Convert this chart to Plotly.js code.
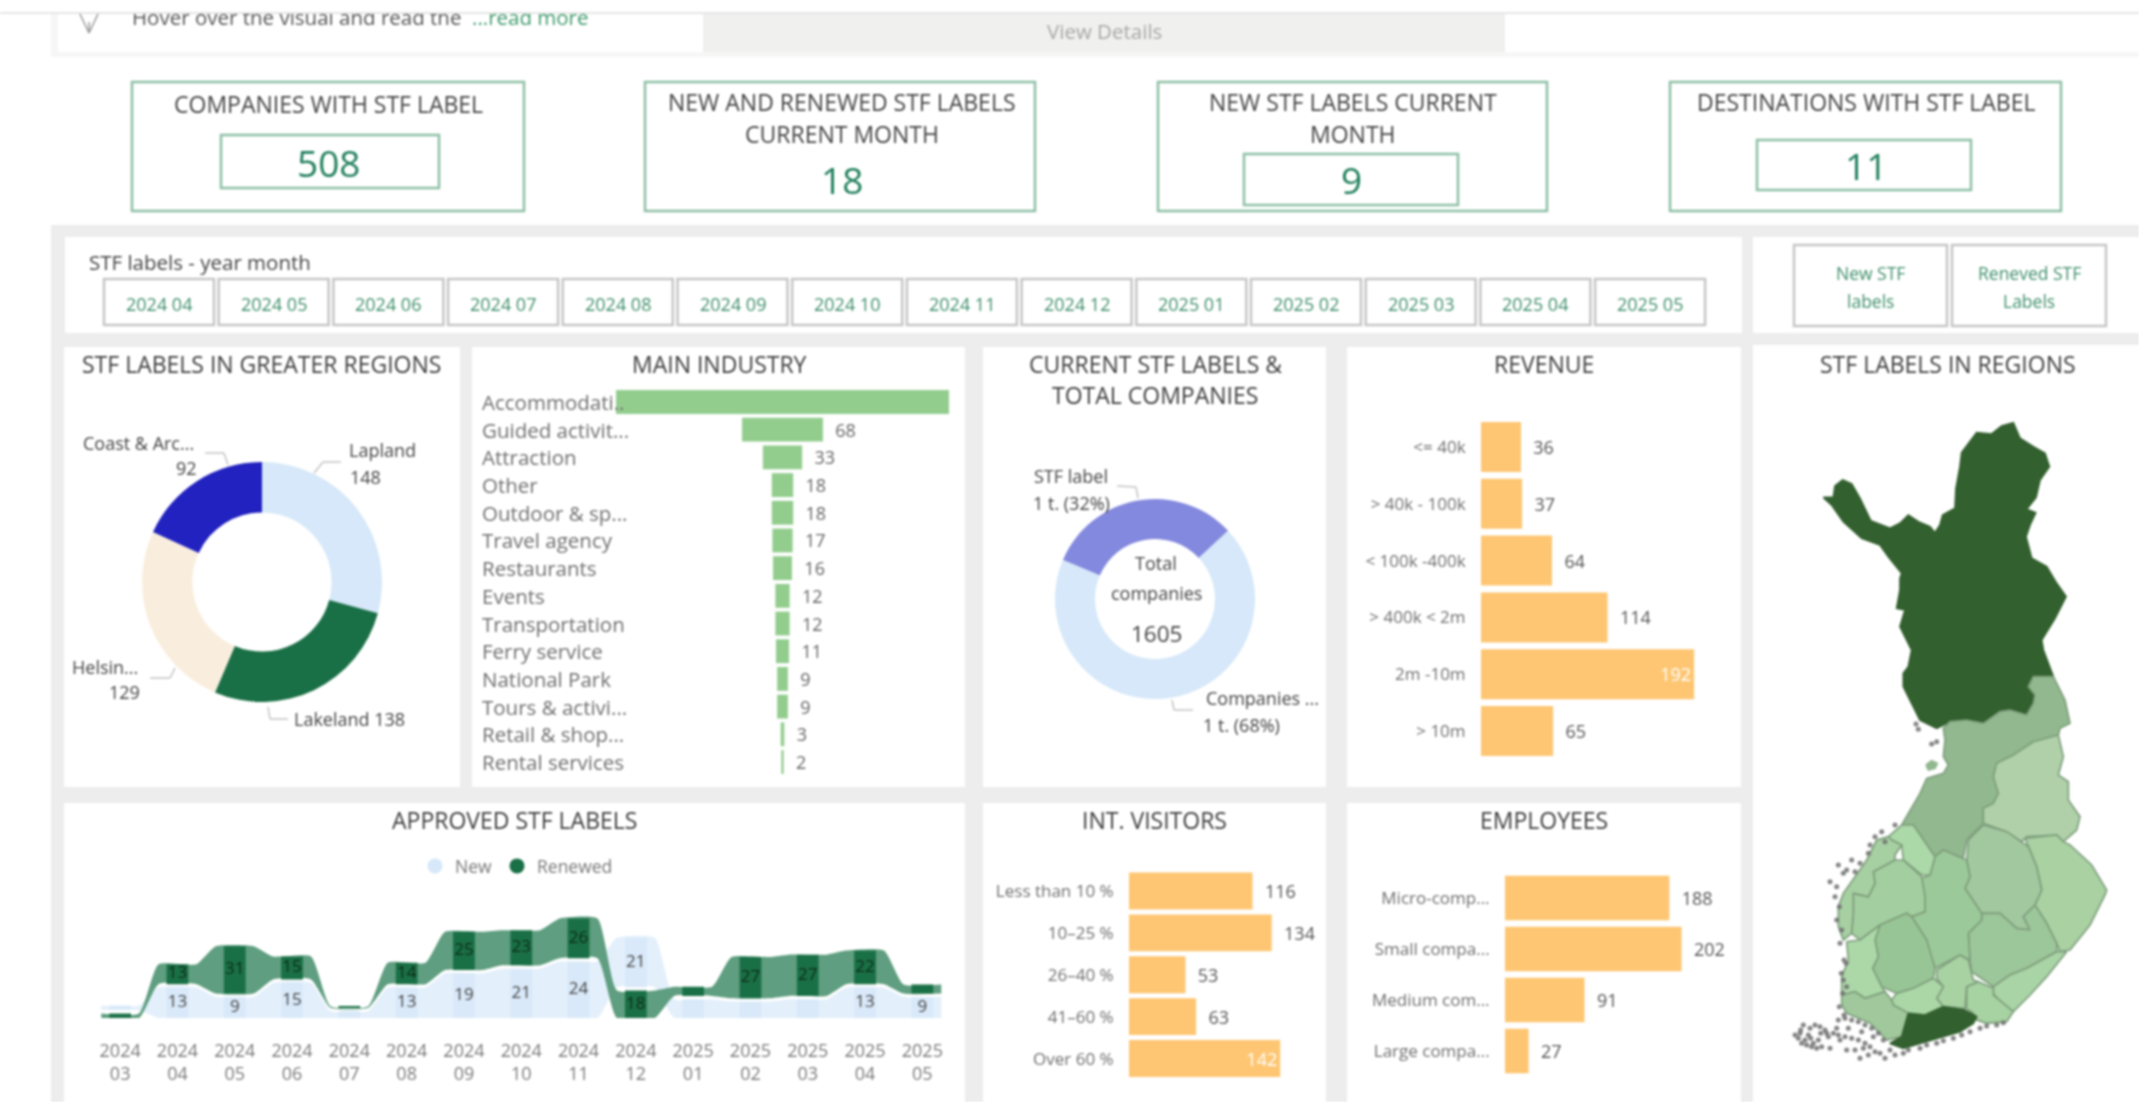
<!DOCTYPE html>
<html><head><meta charset="utf-8">
<script src="https://cdn.plot.ly/plotly-3.0.1.min.js"></script>
<style>
html,body{margin:0;padding:0;background:#fff;width:2139px;height:1102px;overflow:hidden}
#wrap{position:relative;width:2139px;height:1102px;filter:blur(1.1px)}
#chart{position:absolute;left:0;top:0}
#topcover{position:absolute;left:0;top:0;width:2139px;height:12px;background:#fff;border-bottom:2px solid #e4e6e5}
</style></head><body>
<div id="wrap"><div id="chart"></div><div id="topcover"></div></div>
<script>
const W=2139,H=1102;
// ---- data ----
const kpiValues=['508','18','9','11'];
const yearMonths=['2024 04','2024 05','2024 06','2024 07','2024 08','2024 09','2024 10','2024 11','2024 12','2025 01','2025 02','2025 03','2025 04','2025 05'];
const greaterRegions=['Lapland','Lakeland','Helsinki','Coast & Archipelago'];
const greaterValues=[148,138,129,92];
const greaterColors=['#d6e8f9','#1a7046','#f9eedd','#2222c0'];
const industries=['Accommodati..','Guided activit...','Attraction','Other','Outdoor & sp...','Travel agency','Restaurants','Events','Transportation','Ferry service','National Park','Tours & activi...','Retail & shop...','Rental services'];
const industryValues=[280,68,33,18,18,17,16,12,12,11,9,9,3,2];
const totalParts=['STF label','Companies without label'];
const totalValues=[508,1097];
const revenueCats=['<= 40k','> 40k - 100k','< 100k -400k','> 400k < 2m','2m -10m','> 10m'];
const revenueValues=[36,37,64,114,192,65];
const visitorCats=['Less than 10 %','10–25 %','26–40 %','41–60 %','Over 60 %'];
const visitorValues=[116,134,53,63,142];
const employeeCats=['Micro-comp...','Small compa...','Medium com...','Large compa...'];
const employeeValues=[188,202,91,27];
const ribbonMonths=['2024<br>03','2024<br>04','2024<br>05','2024<br>06','2024<br>07','2024<br>08','2024<br>09','2024<br>10','2024<br>11','2024<br>12','2025<br>01','2025<br>02','2025<br>03','2025<br>04','2025<br>05'];
const newValues=[2,13,9,15,3,13,19,21,24,21,8,7,8,13,9];
const renewedValues=[3,13,31,15,1,14,25,23,26,18,6,27,27,22,6];
const newLabels=['','13','9','15','','13','19','21','24','21','','','','13','9'];
const renewedLabels=['','13','31','15','','14','25','23','26','18','','27','27','22',''];
const renewedLowest=[true,false,false,false,false,false,false,false,false,true,false,false,false,false,false];
// map outlines in map units
const mapRegions=[
 {n:'Lapland',c:'#33602f',l:'#33602f',x:[130,160,165,188,215,240,272,305,330,360,385,415,450,465,480,488,525,528,540,545,570,590,635,665,700,720,760,795,808,780,768,740,767,750,738,755,800,830,858,825,785,790,820,760,745,765,760,740,690,660,610,560,510,470,420,395,370,370,385,395,360,375,350,360,360,365,325,300,245,190,155],y:[-608,-608,-642,-660,-648,-605,-538,-525,-515,-530,-555,-535,-520,-502,-525,-555,-575,-635,-700,-742,-775,-802,-798,-822,-832,-785,-760,-740,-700,-660,-608,-572,-562,-525,-490,-425,-400,-350,-310,-245,-180,-150,-70,-70,-40,-15,10,45,30,35,70,60,65,85,60,10,-40,-80,-100,-150,-220,-270,-275,-330,-365,-380,-430,-465,-485,-535,-585]},
 {n:'North Ostrobothnia',c:'#91b88e',l:'#7f9f7d',x:[820,855,870,840,835,760,700,650,640,655,640,610,610,560,550,490,465,400,365,385,420,440,490,505,490,495,490,510,560,610,660,690,740,760,765,745,760],y:[-70,0,70,85,105,125,165,190,230,280,310,325,370,420,475,450,470,375,375,340,280,235,220,195,170,120,85,65,60,70,35,30,45,10,-15,-40,-70]},
 {n:'Hailuoto',c:'#91b88e',l:'#91b88e',x:[438,455,472,465,445],y:[195,182,190,205,210]},
 {n:'Kainuu',c:'#afd0a9',l:'#7f9f7d',x:[835,850,835,865,865,900,890,850,830,740,725,680,610,610,640,655,640,650,700,760],y:[105,170,225,245,300,350,390,425,405,410,425,395,370,325,310,280,230,190,165,125]},
 {n:'North Karelia',c:'#a9d1a2',l:'#7f9f7d',x:[735,830,850,870,935,980,975,930,870,840,830,800,765,785,770,745],y:[415,405,425,435,495,570,585,675,750,755,730,670,615,570,500,440]},
 {n:'North Savo',c:'#a2c8a0',l:'#7f9f7d',x:[565,610,680,725,745,770,785,765,730,750,710,660,605,585,555,570,560],y:[420,375,395,425,440,500,570,615,650,690,685,640,640,610,565,530,480]},
 {n:'South Savo',c:'#9cc79a',l:'#7f9f7d',x:[605,660,710,750,730,765,800,830,830,740,690,640,575,570,565,605],y:[640,640,685,690,650,615,670,730,755,805,825,860,815,780,700,660]},
 {n:'South Karelia',c:'#a9d4a5',l:'#7f9f7d',x:[640,690,740,830,860,800,750,700,660,640],y:[860,825,805,755,755,830,885,935,905,880]},
 {n:'Kymenlaakso',c:'#a7d2a2',l:'#7f9f7d',x:[560,595,640,640,700,680,620,590,580,560],y:[860,845,865,885,935,965,970,960,940,925]},
 {n:'Päijät-Häme',c:'#a9d2a3',l:'#7f9f7d',x:[470,540,565,575,580,595,560,555,490,470,490,470],y:[810,765,780,815,840,845,860,925,920,895,860,835]},
 {n:'Central Finland',c:'#9cc99a',l:'#7f9f7d',x:[490,550,560,570,555,585,605,605,565,570,540,465,450,440,395,435,435,425,450,465],y:[450,475,480,530,565,610,640,660,700,780,765,805,760,720,650,635,590,535,525,470]},
 {n:'Central Ostrobothnia',c:'#acd9a8',l:'#7f9f7d',x:[325,365,400,465,450,425,370,365,335],y:[410,375,375,470,525,525,480,435,420]},
 {n:'South Ostrobothnia',c:'#a3cfa0',l:'#7f9f7d',x:[280,345,370,425,435,435,395,380,300,240,215,220,220,265,285],y:[515,480,480,530,590,635,650,640,675,720,700,640,580,590,550]},
 {n:'Ostrobothnia',c:'#a6cfa2',l:'#7f9f7d',x:[325,335,365,345,345,280,285,265,220,220,215,190,175,175,190,260,290],y:[410,420,435,465,480,515,550,590,580,640,700,720,680,620,580,480,420]},
 {n:'Pirkanmaa',c:'#98c596',l:'#7f9f7d',x:[300,380,395,440,465,460,400,350,305,278,295,285],y:[675,640,650,720,805,835,865,880,860,805,770,720]},
 {n:'Satakunta',c:'#acd8a8',l:'#7f9f7d',x:[200,240,300,285,295,278,305,315,255,225,185,185,205],y:[725,720,675,720,770,805,860,875,895,875,885,830,780]},
 {n:'Kanta-Häme',c:'#abd7a7',l:'#7f9f7d',x:[335,350,400,460,490,470,490,435,385,340],y:[900,880,865,835,860,895,920,945,940,915]},
 {n:'Southwest Finland',c:'#a0c89c',l:'#7f9f7d',x:[185,225,255,315,335,340,385,365,320,270,200,185],y:[885,875,895,875,900,915,940,1010,1020,970,940,915]},
 {n:'Uusimaa',c:'#33602f',l:'#33602f',x:[385,435,490,555,590,580,540,470,420,370,330,365],y:[940,945,920,930,950,970,995,1015,1030,1045,1030,1010]}
];
const speckleX=[45,70,55,90,65,105,80,120,95,135,110,145,125,100,75,60,85,115,140,62,92,122,150,175,160,195,175,215,195,235,215,255,235,275,255,295,270,310,285,250,265,225,240,200,180,170,205,245,280,300,330,315,345,370,385,420,440,470,490,520,545,570,600,620,650,670,
 165,178,170,185,180,192,184,200,190,198,188,178,192,150,175,190,170,215,200,240,225,265,285,270,305,315,345,455,470,408,415];
const speckleY=[1005,975,1015,985,1030,975,1035,980,1040,990,1045,1010,1040,1030,1020,1000,1005,1020,1000,990,1015,1000,1045,960,1000,955,1005,960,1010,965,1015,975,1020,985,1030,1000,1040,1020,1055,1045,1065,1050,1075,1050,1020,985,985,995,1010,1060,1050,1075,1065,1060,1050,1045,1035,1030,1022,1015,1005,995,985,978,975,968,
 590,620,660,690,730,780,820,860,840,790,880,920,945,545,495,520,560,480,510,490,515,460,410,435,395,425,375,132,125,72,88];

// ---- helpers ----
const fx=p=>p/W, fy=p=>1-p/H;
const FONT='"Open Sans",sans-serif';
const annotations=[], shapes=[], traces=[], layout={};
function T(text,x,y,o={}){annotations.push({text,x:fx(x),y:fy(y),xref:'paper',yref:'paper',showarrow:false,xanchor:o.a||'center',yanchor:'middle',font:{family:FONT,size:o.s||18,color:o.c||'#444'}});}
function R(x0,y0,x1,y1,fill,line,lw){shapes.push({type:'rect',xref:'paper',yref:'paper',layer:'below',x0:fx(x0),x1:fx(x1),y0:fy(y0),y1:fy(y1),fillcolor:fill||'rgba(0,0,0,0)',line:{color:line||'rgba(0,0,0,0)',width:line?(lw||2):0}});}
function L(pts,c,w){for(let i=0;i<pts.length-1;i++)shapes.push({type:'line',xref:'paper',yref:'paper',x0:fx(pts[i][0]),y0:fy(pts[i][1]),x1:fx(pts[i+1][0]),y1:fy(pts[i+1][1]),line:{color:c||'#c4c4c4',width:w||1.5}});}
let axN=1;
function axes(xd,yd){const n=axN++;const s=n===1?'':String(n);
 const xa={domain:[fx(xd[0]),fx(xd[1])],anchor:'y'+s,visible:false,fixedrange:true,showgrid:false,zeroline:false};
 const ya={domain:[fy(yd[1]),fy(yd[0])],anchor:'x'+s,showgrid:false,zeroline:false,showline:false,fixedrange:true};
 layout['xaxis'+s]=xa;layout['yaxis'+s]=ya;return {x:'x'+s,y:'y'+s,xa,ya};}
function hbar(cats,vals,inside,x0,pxPerUnit,x1,yTop,yBot,gap){
 const a=axes([x0,x1],[yTop,yBot]);
 a.xa.range=[0,(x1-x0)/pxPerUnit];
 Object.assign(a.ya,{type:'category',autorange:'reversed',ticks:'outside',ticklen:11,tickcolor:'rgba(0,0,0,0)',tickfont:{family:FONT,size:17,color:'#6f6f6f'}});
 traces.push({type:'bar',orientation:'h',x:vals,y:cats,xaxis:a.x,yaxis:a.y,width:1-gap,marker:{color:'#fec672'},showlegend:false,hoverinfo:'x+y',
  text:vals.map(v=>v===inside?String(v):'\u00a0\u00a0'+v),textposition:vals.map(v=>v===inside?'inside':'outside'),insidetextanchor:'end',
  textfont:{family:FONT,size:18,color:vals.map(v=>v===inside?'#fff':'#555')},cliponaxis:false,constraintext:'none'});
}

// ---- page furniture ----
R(0,0,W,H,'#ededed');
R(0,0,51,H,'#ffffff');
R(51,12,W,57,'#f6f6f6');
R(58,14,W,52,'#ffffff');
R(703,14,1505,52,'#f0f0ef');
R(51,57,W,225,'#ffffff');
R(65,237,1742,333,'#ffffff');
R(1753,237,W,333,'#ffffff');
[[64,347,460,787],[472,347,965,787],[983,347,1326,787],[1347,347,1741,787],[1753,345,W,H],[64,803,965,H],[983,803,1326,H],[1347,803,1741,H]].forEach(p=>R(p[0],p[1],p[2],p[3],'#ffffff'));

T('Hover over the visual and read the',130,17,{a:'left',s:20.5,c:'#555'});
T('...read more',470,17,{a:'left',s:20.5,c:'#3f9a6b'});
L([[80,14],[89,33],[98,14]],'#9a9a9a',1.5);L([[89,22],[89,33]],'#9a9a9a',1.5);
T('View Details',1104,31,{s:20.5,c:'#a8a8a8'});

// KPI cards
const GREEN='#8fc0a6',VAL='#1f7f5c',KS=23;
R(132,82,524,211,'#fff',GREEN,2.5);R(221,135,439,188,'#fff',GREEN,2.5);
T('COMPANIES WITH STF LABEL',328,104,{s:KS});T(kpiValues[0],329,163,{s:37,c:VAL});
R(645,82,1035,211,'#fff',GREEN,2.5);
T('NEW AND RENEWED STF LABELS',842,102,{s:KS});T('CURRENT MONTH',842,134,{s:KS});T(kpiValues[1],842,180,{s:37,c:VAL});
R(1158,82,1547,211,'#fff',GREEN,2.5);R(1244,154,1458,205,'#fff',GREEN,2.5);
T('NEW STF LABELS CURRENT',1353,102,{s:KS});T('MONTH',1353,134,{s:KS});T(kpiValues[2],1352,180,{s:37,c:VAL});
R(1670,82,2061,211,'#fff',GREEN,2.5);R(1757,140,1971,190,'#fff',GREEN,2.5);
T('DESTINATIONS WITH STF LABEL',1866,102,{s:KS});T(kpiValues[3],1866,165,{s:37,c:VAL});

// slicers
T('STF labels - year month',87,262,{a:'left',s:20.5});
yearMonths.forEach((m,i)=>{const x=104+i*114.7;R(x,279,x+110,325,'#fff','#c6c6c6',2.5);T(m,x+55,304,{s:18,c:'#3f8f6b'});});
R(1794,245,1947,326,'#fff','#c6c6c6',2.5);R(1952,245,2106,326,'#fff','#c6c6c6',2.5);
T('New STF',1870,273,{s:17.5,c:'#3f8f6b'});T('labels',1870,301,{s:17.5,c:'#3f8f6b'});
T('Reneved STF',2029,273,{s:17.5,c:'#3f8f6b'});T('Labels',2029,301,{s:17.5,c:'#3f8f6b'});

// panel titles
const TS=23,TC='#3d3d3d';
T('STF LABELS IN GREATER REGIONS',261,364,{s:TS,c:TC});
T('MAIN INDUSTRY',719,364,{s:TS,c:TC});
T('CURRENT STF LABELS &amp;',1155,364,{s:TS,c:TC});T('TOTAL COMPANIES',1155,395,{s:TS,c:TC});
T('REVENUE',1544,364,{s:TS,c:TC});
T('STF LABELS IN REGIONS',1948,364,{s:TS,c:TC});
T('APPROVED STF LABELS',514,820,{s:TS,c:TC});
T('INT. VISITORS',1154,820,{s:TS,c:TC});
T('EMPLOYEES',1544,820,{s:TS,c:TC});

// greater regions donut
traces.push({type:'pie',labels:greaterRegions,values:greaterValues,hole:0.58,sort:false,direction:'clockwise',rotation:0,textinfo:'none',showlegend:false,
 marker:{colors:greaterColors,line:{width:0}},domain:{x:[fx(142),fx(382)],y:[fy(702),fy(462)]}});
T('Lapland',382,450);T(String(greaterValues[0]),365,477);
T('Coast &amp; Arc...',138,443);T(String(greaterValues[3]),186,468);
T('Helsin...',105,667);T(String(greaterValues[2]),124,692);
T('Lakeland '+greaterValues[1],349,719);
L([[314,473],[323,462],[341,462]]);L([[228,465],[224,453],[205,453]]);L([[175,668],[170,678],[150,678]]);L([[268,707],[270,719],[288,719]]);

// main industry (centred bars)
{const a=axes([616,949],[386,778]);
 a.xa.range=[-140,140];
 Object.assign(a.ya,{type:'category',autorange:'reversed',showticklabels:false});
 traces.push({type:'bar',orientation:'h',x:industryValues,base:industryValues.map(v=>-v/2),y:industries,xaxis:a.x,yaxis:a.y,width:0.86,marker:{color:'#93cd8e'},showlegend:false,
  text:industryValues.map((v,i)=>i===0?'':'\u00a0\u00a0'+v),textposition:'outside',textfont:{family:FONT,size:18,color:'#666'},cliponaxis:false,constraintext:'none'});
 industries.forEach(c=>annotations.push({text:c,xref:'paper',yref:a.y,x:fx(480),y:c,xanchor:'left',yanchor:'middle',showarrow:false,font:{family:FONT,size:20.5,color:'#6f6f6f'}}));
}

// total companies donut
traces.push({type:'pie',labels:totalParts,values:totalValues,hole:0.6,sort:false,direction:'clockwise',rotation:-67,textinfo:'none',showlegend:false,
 marker:{colors:['#8389de','#d6e8f9'],line:{width:0}},domain:{x:[fx(1055),fx(1255)],y:[fy(699),fy(499)]}});
T('Total',1156,563);T('companies',1156,593);T(String(totalValues[0]+totalValues[1]),1156,633,{s:22.5});
T('STF label',1071,476);T('1 t. (32%)',1071,503);
T('Companies ...',1262,698);T('1 t. (68%)',1241,725);
L([[1117,486],[1136,487],[1138,498]]);L([[1172,700],[1174,710],[1193,710]]);

// revenue, visitors, employees
hbar(revenueCats,revenueValues,192,1481,1.11,1730,418.6,759.4,0.12);
hbar(visitorCats,visitorValues,142,1129,1.065,1320,870,1079.5,0.12);
hbar(employeeCats,employeeValues,-1,1505,0.874,1735,872.5,1076.5,0.13);

// ribbon chart
{const a=axes([91.5,951],[868,1018]);
 a.xa.range=[-0.5,14.5];
 Object.assign(a.xa,{visible:true,tickmode:'array',tickvals:ribbonMonths.map((_,i)=>i),ticktext:ribbonMonths,showline:false,ticks:'',tickfont:{family:FONT,size:18,color:'#7a7a7a'},ticklabelstandoff:20});
 a.ya.range=[0,63.8];a.ya.visible=false;
 const WEIGHT=0.65,GAP=1.4,HALF=0.33;
 const nb=[],nt=[],rb=[],rt=[];
 newValues.forEach((v,i)=>{const r=renewedValues[i]*WEIGHT;
  if(renewedLowest[i]){rb.push(0);rt.push(r);nb.push(r+GAP);nt.push(r+GAP+v);}
  else{nb.push(0);nt.push(v);rb.push(v+GAP);rt.push(v+GAP+r);}});
 const xs=[];newValues.forEach((_,i)=>xs.push(i-HALF,i+HALF));
 const dbl=arr=>arr.flatMap(v=>[v,v]);
 const band=(lo,hi,col)=>{
  traces.push({type:'scatter',mode:'lines',x:xs,y:dbl(lo),xaxis:a.x,yaxis:a.y,line:{width:0,shape:'spline',smoothing:0.5},showlegend:false,hoverinfo:'skip'});
  traces.push({type:'scatter',mode:'lines',x:xs,y:dbl(hi),xaxis:a.x,yaxis:a.y,line:{width:0,shape:'spline',smoothing:0.5},fill:'tonexty',fillcolor:col,showlegend:false,hoverinfo:'skip'});};
 band(nb,nt,'#e3effb');band(rb,rt,'#5f9e80');
 // columns and labels on an overlaying axis pair so they sit above the ribbons
 const o=axes([91.5,951],[868,1018]);
 o.xa.range=[-0.5,14.5];o.ya.range=[0,63.8];o.ya.visible=false;
 o.xa.overlaying=a.x;o.ya.overlaying=a.y;
 const idx=newValues.map((_,i)=>i);
 traces.push({type:'bar',x:idx,y:newValues,base:nb,width:0.38,xaxis:o.x,yaxis:o.y,marker:{color:'#d9e9f9'},showlegend:false,hoverinfo:'skip'});
 traces.push({type:'bar',x:idx,y:renewedValues.map(v=>v*WEIGHT),base:rb,width:0.38,xaxis:o.x,yaxis:o.y,marker:{color:'#1a7046'},showlegend:false,hoverinfo:'skip'});
 traces.push({type:'scatter',mode:'text',x:idx,y:nb.map((b,i)=>(b+nt[i])/2),text:newLabels,textfont:{family:FONT,size:17,color:'#444'},xaxis:o.x,yaxis:o.y,showlegend:false,hoverinfo:'skip'});
 traces.push({type:'scatter',mode:'text',x:idx,y:rb.map((b,i)=>(b+rt[i])/2),text:renewedLabels,textfont:{family:FONT,size:17,color:'#0c2a1a'},xaxis:o.x,yaxis:o.y,showlegend:false,hoverinfo:'skip'});
 traces.push({type:'scatter',mode:'markers',name:'New',x:[null],y:[null],xaxis:o.x,yaxis:o.y,marker:{color:'#d6e8f9',size:15}});
 traces.push({type:'scatter',mode:'markers',name:'Renewed',x:[null],y:[null],xaxis:o.x,yaxis:o.y,marker:{color:'#1a7046',size:15}});
}

// map
{const a=axes([1750,2139],[340,1102]);
 a.xa.range=[-90,1077];a.ya.range=[1206,-1080];a.ya.visible=false;
 mapRegions.forEach(r=>traces.push({type:'scatter',mode:'lines',name:r.n,x:r.x.concat(r.x[0]),y:r.y.concat(r.y[0]),fill:'toself',fillcolor:r.c,line:{color:r.l,width:1.7},xaxis:a.x,yaxis:a.y,showlegend:false,hoverinfo:'name'}));
 traces.push({type:'scatter',mode:'markers',name:'Archipelago',x:speckleX,y:speckleY,marker:{color:'#6f6f6f',size:5,opacity:0.85,line:{width:0}},xaxis:a.x,yaxis:a.y,showlegend:false,hoverinfo:'skip'});
}

Object.assign(layout,{width:W,height:H,margin:{l:0,r:0,t:0,b:0},paper_bgcolor:'#ffffff',plot_bgcolor:'rgba(0,0,0,0)',barmode:'overlay',
 font:{family:FONT},annotations,shapes,showlegend:true,
 legend:{orientation:'h',traceorder:'normal',x:fx(415),y:fy(866),xanchor:'left',yanchor:'middle',bgcolor:'rgba(0,0,0,0)',font:{family:FONT,size:17.5,color:'#777'},itemwidth:30,itemclick:false,itemdoubleclick:false}});
Plotly.newPlot('chart',traces,layout,{displayModeBar:false,responsive:false});
</script></body></html>
